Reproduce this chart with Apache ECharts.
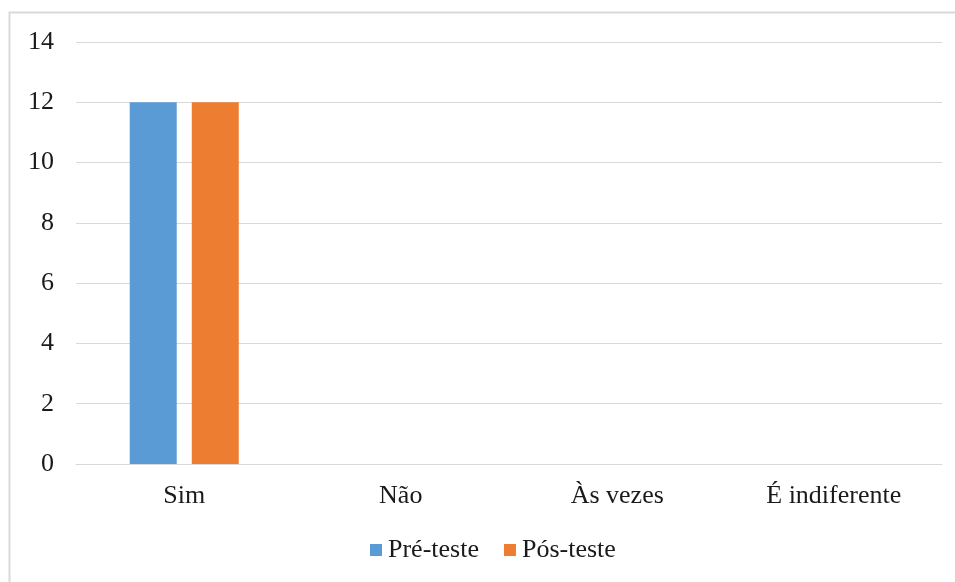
<!DOCTYPE html>
<html><head><meta charset="utf-8">
<script src="https://cdn.jsdelivr.net/npm/echarts@6/dist/echarts.min.js"></script>
<style>html,body{margin:0;padding:0;background:#fff}#c{width:955px;height:582px}</style>
</head><body><div id="c"></div>
<script>
const categories = ['Sim', 'Não', 'Às vezes', 'É indiferente'];
const preTeste = [12, 0, 0, 0];
const posTeste = [12, 0, 0, 0];
const yTicks = { min: 0, max: 14, interval: 2 };

const chart = echarts.init(document.getElementById('c'));
const font = '"Liberation Serif", "Times New Roman", serif';
chart.setOption({
  animation: false,
  textStyle: { fontFamily: font },
  graphic: [{
    type: 'rect', shape: { x: 9.5, y: 12.5, width: 960, height: 600 },
    style: { fill: 'none', stroke: '#d9d9d9', lineWidth: 2 }, silent: true, z: -1
  }],
  grid: { left: 76, right: 13, top: 42, bottom: 118 },
  legend: {
    top: 532, left: 365, itemWidth: 12, itemHeight: 12, itemGap: 25,
    icon: 'rect',
    textStyle: { fontFamily: font, fontSize: 26, color: '#1a1a1a', padding: [0, 0, 0, 1] },
    data: ['Pré-teste', 'Pós-teste']
  },
  xAxis: {
    type: 'category', data: categories,
    axisLine: { lineStyle: { color: '#d9d9d9', width: 1 } },
    axisTick: { show: false },
    axisLabel: { fontFamily: font, fontSize: 26, color: '#1a1a1a', margin: 19 }
  },
  yAxis: {
    type: 'value', min: yTicks.min, max: yTicks.max, interval: yTicks.interval,
    axisLine: { show: false }, axisTick: { show: false },
    splitLine: { lineStyle: { color: '#d9d9d9', width: 1 } },
    axisLabel: { fontFamily: font, fontSize: 26, color: '#1a1a1a', margin: 22 }
  },
  series: [
    { name: 'Pré-teste', type: 'bar', data: preTeste, barWidth: 47, barGap: '32%',
      itemStyle: { color: '#5b9bd5' } },
    { name: 'Pós-teste', type: 'bar', data: posTeste, barWidth: 47,
      itemStyle: { color: '#ed7d31' } }
  ]
});
</script></body></html>
